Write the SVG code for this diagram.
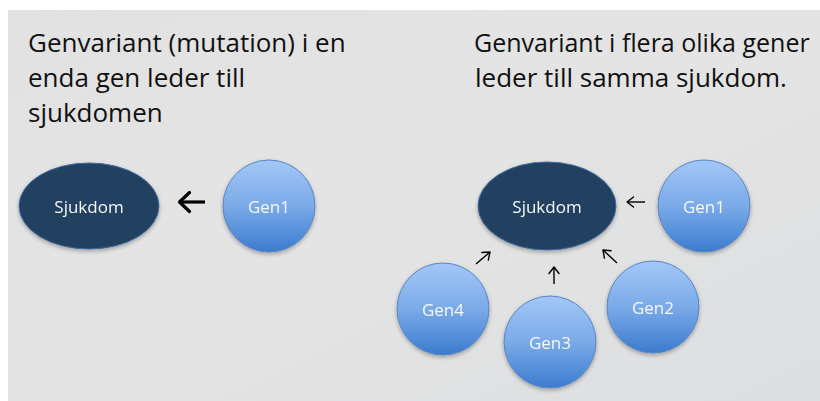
<svg xmlns="http://www.w3.org/2000/svg" width="820" height="401" viewBox="0 0 820 401">
  <defs>
    <linearGradient id="genFill" x1="0" y1="0" x2="0" y2="1">
      <stop offset="0" stop-color="#a3c7f7"/>
      <stop offset="0.5" stop-color="#7aaae8"/>
      <stop offset="1" stop-color="#3c7bcf"/>
    </linearGradient>
    <linearGradient id="bg" x1="0" y1="0" x2="1" y2="1">
      <stop offset="0" stop-color="#e2e2e2"/>
      <stop offset="0.5" stop-color="#e4e4e4"/>
      <stop offset="1" stop-color="#dcdee0"/>
    </linearGradient>
    <filter id="shadow" x="-20%" y="-20%" width="140%" height="150%">
      <feGaussianBlur in="SourceAlpha" stdDeviation="2"/>
      <feOffset dx="0" dy="2" result="b"/>
      <feComponentTransfer><feFuncA type="linear" slope="0.3"/></feComponentTransfer>
      <feMerge><feMergeNode/><feMergeNode in="SourceGraphic"/></feMerge>
    </filter>
    <marker id="headBold" viewBox="0 -10 13 20" refX="12" refY="0" markerUnits="userSpaceOnUse" markerWidth="13" markerHeight="20" orient="auto" overflow="visible">
      <path d="M1.5,-9.5 L11.5,0 L1.5,9.5" fill="none" stroke="#000" stroke-width="3.2" stroke-linecap="round" stroke-linejoin="round"/>
    </marker>
    <marker id="headThin" viewBox="0 -6 8 12" refX="7.5" refY="0" markerUnits="userSpaceOnUse" markerWidth="8" markerHeight="12" orient="auto" overflow="visible">
      <path d="M1,-5 L7.5,0 L1,5" fill="none" stroke="#000" stroke-width="1.4" stroke-linecap="round" stroke-linejoin="round"/>
    </marker>
  </defs>
  <style>
    .title { font-family: "Open Sans", "Liberation Sans", sans-serif; font-size: 26px; fill: #111; }
    .title.tight { font-size: 25px; }
    .label { font-family: "Open Sans", "Liberation Sans", sans-serif; font-size: 17px; fill: #f8f8f8; text-anchor: middle; }
    .disease { fill: #243f60; stroke: #3f6aa0; stroke-width: 1; }
    .gene { fill: url(#genFill); stroke: #5b87c2; stroke-width: 1; }
    .bold { stroke: #000; stroke-width: 3.2; fill: none; }
    .thin { stroke: #000; stroke-width: 1.4; fill: none; }
  </style>

  <rect x="0" y="0" width="820" height="401" fill="#ffffff"/>
  <rect x="8" y="10" width="812" height="391" fill="url(#bg)"/>

  <!-- headings -->
  <text class="title" x="28" y="52">Genvariant (mutation) i en</text>
  <text class="title" x="28" y="87">enda gen leder till</text>
  <text class="title" x="28" y="122">sjukdomen</text>
  <text class="title tight" x="474" y="52">Genvariant i flera olika gener</text>
  <text class="title" x="475" y="87">leder till samma sjukdom.</text>

  <!-- single-gene case -->
  <g id="sjukdom-a" filter="url(#shadow)">
    <ellipse class="disease" cx="89" cy="206" rx="70" ry="43"/>
    <text class="label" x="89" y="213">Sjukdom</text>
  </g>
  <g id="gen1-a" filter="url(#shadow)">
    <circle class="gene" cx="269" cy="206" r="46"/>
    <text class="label" x="269" y="213">Gen1</text>
  </g>

  <!-- multi-gene case -->
  <g id="sjukdom-b" filter="url(#shadow)">
    <ellipse class="disease" cx="547" cy="206" rx="69" ry="44"/>
    <text class="label" x="547" y="213">Sjukdom</text>
  </g>
  <g id="gen1-b" filter="url(#shadow)">
    <circle class="gene" cx="704" cy="206" r="46"/>
    <text class="label" x="704" y="213">Gen1</text>
  </g>
  <g id="gen2-b" filter="url(#shadow)">
    <circle class="gene" cx="653" cy="307" r="46"/>
    <text class="label" x="653" y="314">Gen2</text>
  </g>
  <g id="gen3-b" filter="url(#shadow)">
    <circle class="gene" cx="550" cy="342" r="46"/>
    <text class="label" x="550" y="349">Gen3</text>
  </g>
  <g id="gen4-b" filter="url(#shadow)">
    <circle class="gene" cx="443" cy="309" r="46"/>
    <text class="label" x="443" y="316">Gen4</text>
  </g>

  <!-- connectors -->
  <g id="connectors">
    <line class="bold" x1="205" y1="202" x2="179" y2="202" marker-end="url(#headBold)"/>
    <line class="thin" x1="645" y1="202" x2="627" y2="202" marker-end="url(#headThin)"/>
    <line class="thin" x1="617" y1="263" x2="603" y2="250" marker-end="url(#headThin)"/>
    <line class="thin" x1="554" y1="284" x2="554" y2="267" marker-end="url(#headThin)"/>
    <line class="thin" x1="476" y1="264" x2="490" y2="252" marker-end="url(#headThin)"/>
  </g>
</svg>
